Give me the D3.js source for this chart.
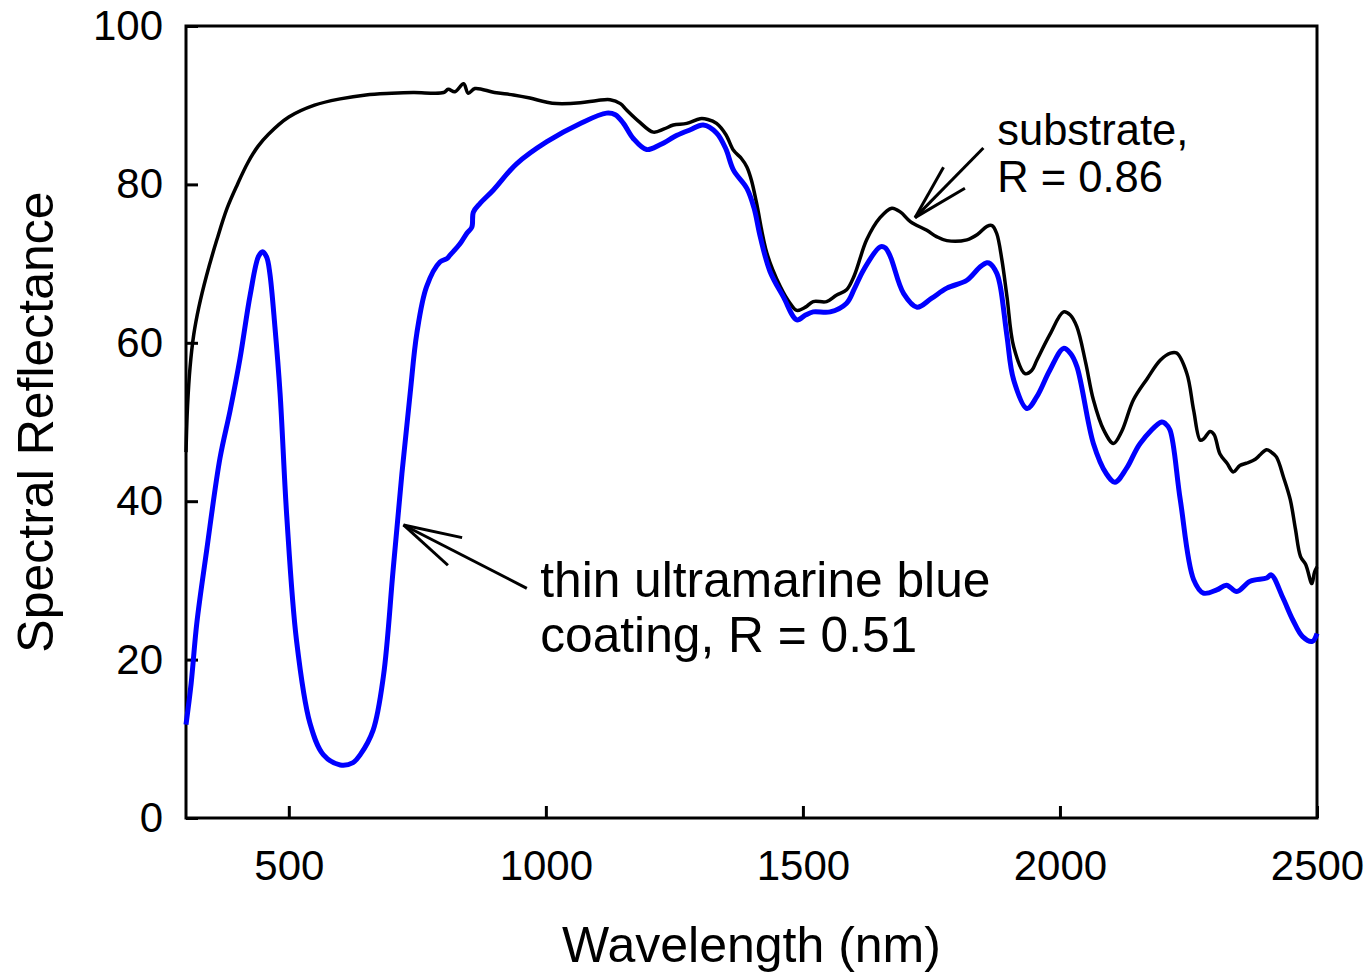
<!DOCTYPE html>
<html>
<head>
<meta charset="utf-8">
<script src="https://cdn.jsdelivr.net/npm/d3@7"></script>
<style>
  body { margin: 0; background: #fff; }
  svg { font-family: "Liberation Sans", Arial, sans-serif; }
</style>
</head>
<body>
<div id="chart"></div>
<script>
// substrate spectrum (black)
var subWl = [300, 303, 308, 315, 325, 340, 360, 380, 400, 420, 440, 460, 500, 550, 600, 650, 700, 742, 801, 810, 823, 840, 849, 862,
  900, 937, 969, 1000, 1021, 1067, 1100, 1125, 1145, 1157, 1180, 1209, 1230, 1248, 1274, 1300, 1315, 1332, 1350, 1365,
  1380, 1391, 1400, 1410, 1430, 1456, 1475, 1488, 1505, 1520, 1546, 1565, 1585, 1600, 1624, 1650, 1673, 1690, 1709,
  1741, 1760, 1780, 1819, 1840, 1858, 1868, 1877, 1887, 1897, 1910, 1932, 1945, 1955, 1980, 2007, 2020, 2033, 2050,
  2065, 2085, 2104, 2120, 2143, 2170, 2195, 2215, 2227, 2247, 2260, 2273, 2280, 2292, 2300, 2311, 2325, 2337, 2350,
  2363, 2380, 2390, 2402, 2411, 2421, 2435, 2448, 2458, 2468, 2478, 2490, 2495, 2500];
var subR = [46.2, 52, 57, 61, 64.5, 68.5, 73, 77, 80, 82.7, 84.8, 86.3, 88.5, 90.0, 90.8, 91.3, 91.5, 91.6, 91.6, 92.0, 91.7, 92.7, 91.5, 92.1,
  91.6, 91.3, 90.9, 90.4, 90.2, 90.3, 90.6, 90.7, 90.2, 89.4, 88.0, 86.6, 87.0, 87.5, 87.7, 88.3, 88.2, 87.7, 86.3, 84.3,
  83.3, 82.2, 80.5, 77.6, 71.3, 67.1, 65.0, 64.1, 64.5, 65.2, 65.2, 66.0, 66.7, 68.5, 73.0, 75.8, 77.0, 76.5, 75.3,
  74.2, 73.4, 72.9, 73.0, 73.7, 74.7, 74.8, 73.8, 70.5, 65.8, 59.5, 56.1, 56.5, 57.8, 61.0, 63.9, 63.5, 62.0, 57.5,
  52.8, 49.0, 47.3, 48.8, 52.8, 55.5, 57.8, 58.7, 58.7, 56.1, 51.5, 47.7, 47.9, 48.8, 48.4, 46.0, 44.8, 43.7, 44.5,
  44.8, 45.3, 45.9, 46.5, 46.2, 45.6, 43.0, 40.2, 36.5, 33.0, 32.0, 29.6, 31.0, 31.7];

// thin ultramarine blue coating spectrum (blue)
var blueWl = [300, 310, 321, 340, 366, 386, 405, 425, 441, 449, 457, 463, 473, 483, 496, 515, 541, 567, 600, 625, 639, 664,
  684, 703, 720, 736, 749, 768, 794, 807, 814, 833, 846, 856, 859, 872, 898, 943, 1002, 1067, 1118, 1135, 1151, 1170,
  1196, 1222, 1255, 1281, 1306, 1332, 1350, 1365, 1391, 1405, 1417, 1436, 1462, 1488, 1505, 1520, 1553, 1585, 1600,
  1618, 1650, 1660, 1670, 1696, 1722, 1750, 1780, 1819, 1845, 1858, 1864, 1877, 1884, 1897, 1910, 1936, 1955, 1980,
  2007, 2020, 2033, 2065, 2090, 2107, 2130, 2156, 2198, 2205, 2214, 2234, 2260, 2279, 2305, 2324, 2344, 2370, 2402,
  2411, 2433, 2453, 2472, 2491, 2500];
var blueR = [11.8, 17, 24.6, 33.7, 45.4, 51.5, 58.0, 66.1, 70.9, 71.5, 70.8, 68.8, 62.0, 53.6, 38.1, 22.4, 12.0, 8.0, 6.7, 7.0, 8.0, 11.1,
  17.9, 31.4, 43.5, 53.6, 61.2, 67.1, 70.2, 70.6, 71.1, 72.5, 73.8, 74.6, 76.5, 77.6, 79.3, 82.6, 85.4, 87.7, 89.0, 88.8, 87.7, 85.8,
  84.4, 85.0, 86.2, 86.9, 87.5, 86.5, 84.5, 81.8, 79.5, 77.0, 73.4, 69.0, 65.8, 62.9, 63.5, 63.9, 63.9, 65.0, 66.8,
  69.2, 72.1, 72.0, 70.9, 66.2, 64.5, 65.6, 66.9, 67.9, 69.6, 70.1, 70.0, 68.8, 67.1, 60.8, 55.3, 51.7, 53.2, 56.5,
  59.3, 58.7, 57.0, 47.3, 43.5, 42.4, 44.2, 47.3, 50.0, 49.8, 49.0, 40.2, 30.1, 28.4, 28.8, 29.4, 28.6, 29.9, 30.3,
  30.7, 27.9, 25.0, 22.9, 22.3, 23.3];

var xTicks = [500, 1000, 1500, 2000, 2500];
var yTicks = [0, 20, 40, 60, 80, 100];

// set the dimensions and margins of the graph
var margin = { top: 26, right: 53, bottom: 155, left: 186 },
  width = 1370 - margin.left - margin.right,
  height = 973 - margin.top - margin.bottom;

var svg = d3.select("#chart")
  .append("svg")
  .attr("width", 1370)
  .attr("height", 973)
  .append("g")
  .attr("transform", "translate(" + margin.left + "," + margin.top + ")");

var x = d3.scaleLinear().domain([300, 2500]).range([0, width]);
var y = d3.scaleLinear().domain([0, 100]).range([height, 0]);

// axes with inside ticks
var xAxis = svg.append("g")
  .attr("transform", "translate(0," + height + ")")
  .call(d3.axisBottom(x).tickValues(xTicks).tickFormat(d3.format("d")).tickSize(-12).tickPadding(32));
var yAxis = svg.append("g")
  .call(d3.axisLeft(y).tickValues(yTicks).tickSize(-12).tickPadding(23));

[xAxis, yAxis].forEach(function (a) {
  a.select(".domain").remove();
  a.selectAll(".tick line").attr("stroke", "#000").attr("stroke-width", 3);
  a.selectAll(".tick text")
    .style("font-family", "'Liberation Sans', Arial, sans-serif")
    .style("font-size", "42px")
    .attr("fill", "#000");
});

// plot frame
svg.append("rect")
  .attr("x", 0).attr("y", 0)
  .attr("width", width).attr("height", height)
  .attr("fill", "none")
  .attr("stroke", "#000")
  .attr("stroke-width", 3);

var line = d3.line()
  .x(function (d) { return x(d[0]); })
  .y(function (d) { return y(d[1]); })
  .curve(d3.curveCatmullRom.alpha(0.5));

svg.append("path")
  .datum(d3.zip(subWl, subR))
  .attr("d", line)
  .attr("fill", "none")
  .attr("stroke", "#000")
  .attr("stroke-width", 3.5)
  .attr("stroke-linejoin", "round");

svg.append("path")
  .datum(d3.zip(blueWl, blueR))
  .attr("d", line)
  .attr("fill", "none")
  .attr("stroke", "#0000ff")
  .attr("stroke-width", 5)
  .attr("stroke-linejoin", "round");

// open arrow from a text anchor to a point on the curve
function arrow(tip, tail, barbLen, spread) {
  var tx = x(tip[0]), ty = y(tip[1]);
  var ex = x(tail[0]), ey = y(tail[1]);
  var ang = Math.atan2(ey - ty, ex - tx);
  var g = svg.append("g").attr("stroke", "#000").attr("stroke-width", 3).attr("fill", "none");
  g.append("line").attr("x1", tx).attr("y1", ty).attr("x2", ex).attr("y2", ey);
  [-1, 1].forEach(function (s) {
    var a = ang + s * spread * Math.PI / 180;
    g.append("line")
      .attr("x1", tx).attr("y1", ty)
      .attr("x2", tx + barbLen * Math.cos(a))
      .attr("y2", ty + barbLen * Math.sin(a));
  });
}

arrow([723, 37.0], [963, 29.0], 60, 15);
arrow([1718, 75.8], [1851, 84.6], 58, 15);

// annotations
var blueLabel = svg.append("text")
  .attr("x", x(989)).attr("y", y(27.9))
  .style("font-size", "49.7px");
blueLabel.append("tspan").attr("x", x(989)).text("thin ultramarine blue");
blueLabel.append("tspan").attr("x", x(989)).attr("dy", 55).text("coating, R = 0.51");

var subLabel = svg.append("text")
  .attr("x", x(1878)).attr("y", y(85.0))
  .style("font-size", "43.5px");
subLabel.append("tspan").attr("x", x(1878)).text("substrate,");
subLabel.append("tspan").attr("x", x(1878)).attr("dy", 47).text("R = 0.86");

// axis titles
svg.append("text")
  .attr("text-anchor", "middle")
  .attr("x", width / 2)
  .attr("y", height + 144)
  .style("font-size", "50px")
  .text("Wavelength (nm)");

svg.append("text")
  .attr("text-anchor", "middle")
  .attr("transform", "rotate(-90)")
  .attr("x", -height / 2)
  .attr("y", -133)
  .style("font-size", "50px")
  .text("Spectral Reflectance");
</script>
</body>
</html>
